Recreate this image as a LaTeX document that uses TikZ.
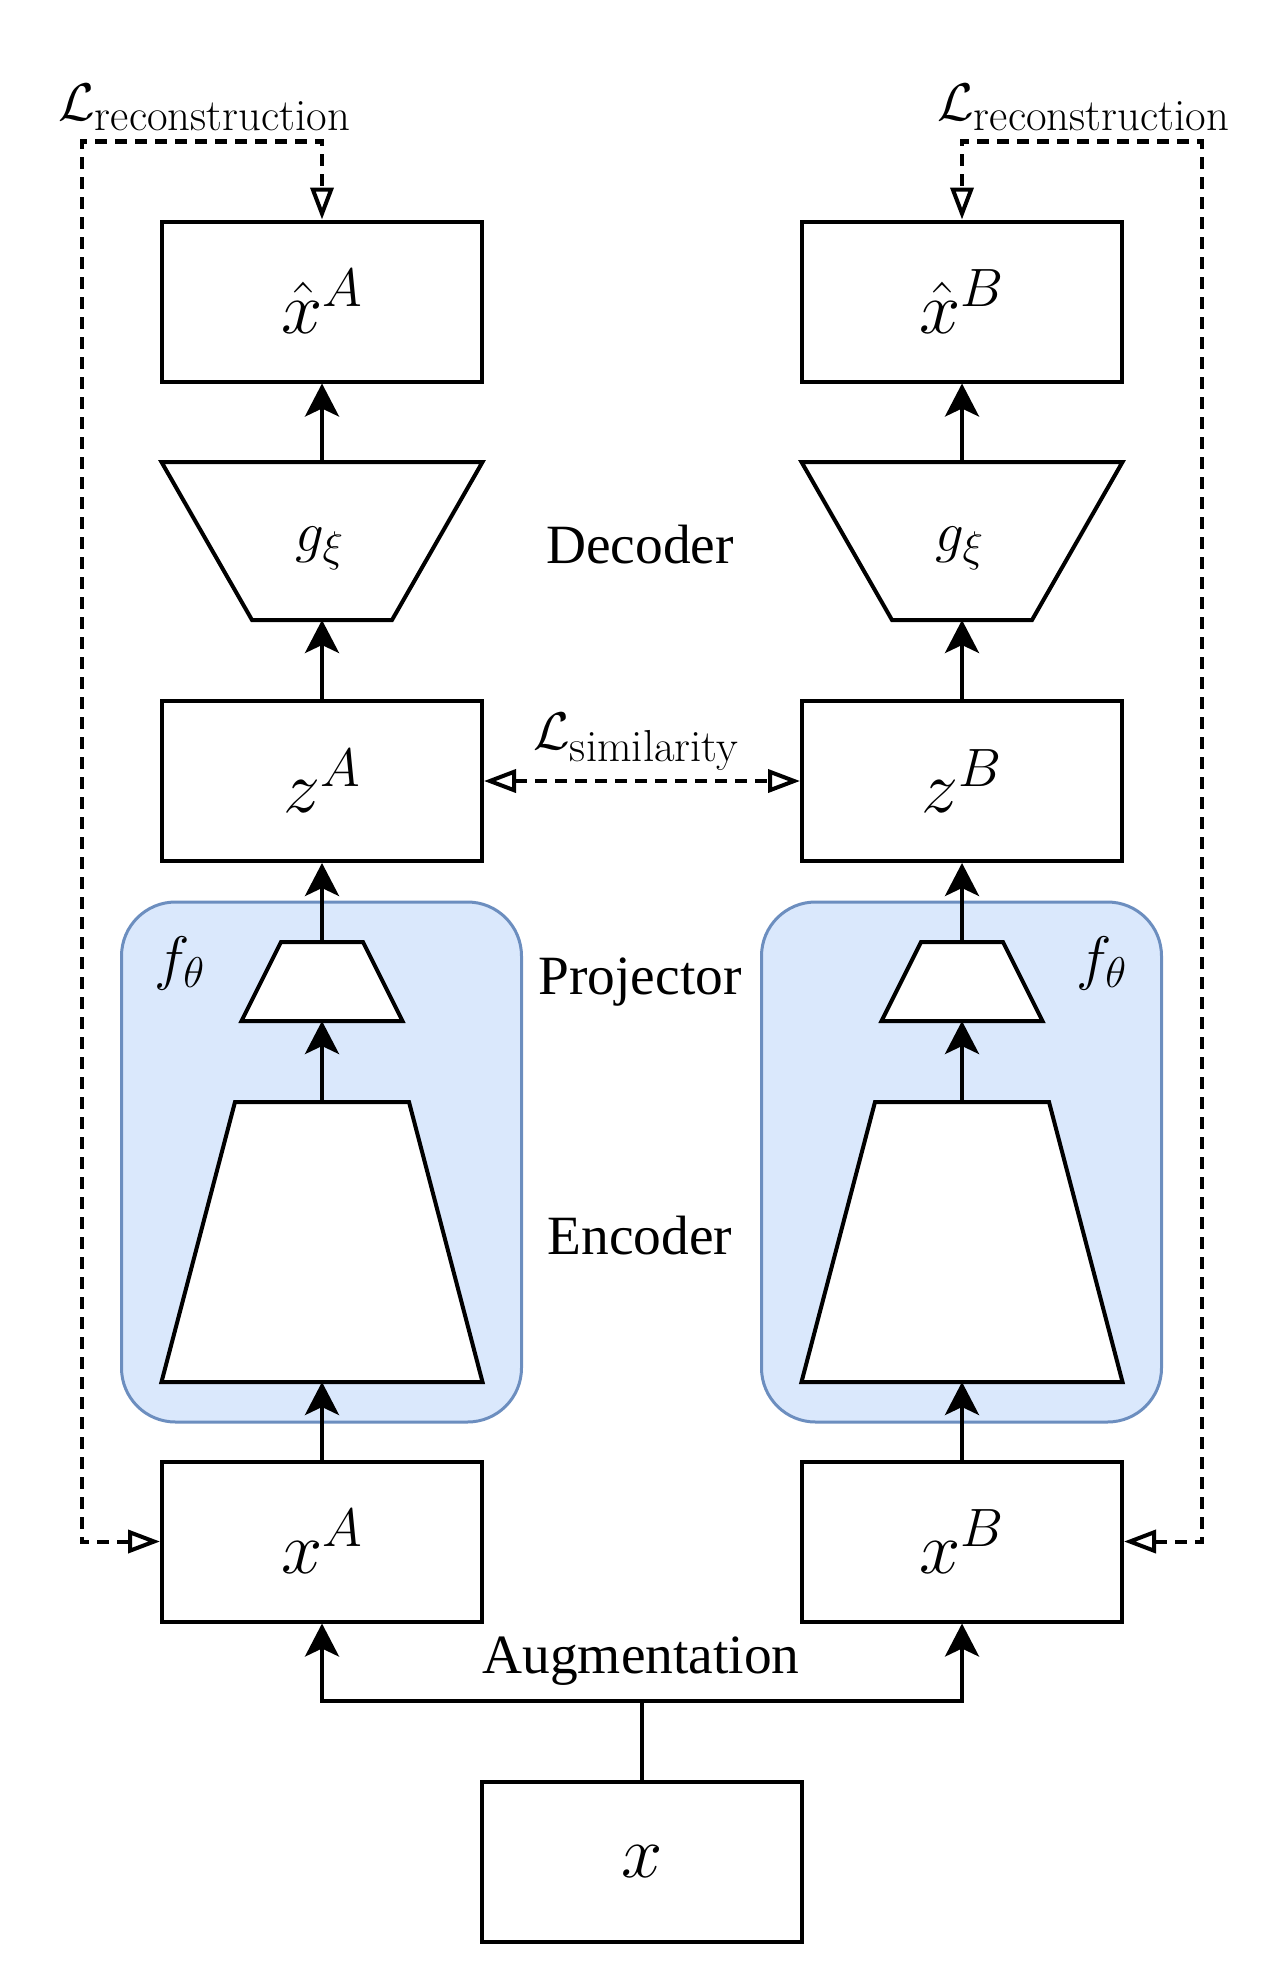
\RequirePackage{fix-cm}
\documentclass[tikz,border=0pt]{standalone}
\usepackage{amsmath}
\usepackage{fontspec}
\newfontfamily\labelfont{Liberation Serif}
\usetikzlibrary{arrows.meta}
\definecolor{blueFill}{HTML}{DAE8FC}
\definecolor{blueLine}{HTML}{6C8EBF}
% subscripts / superscripts at explicit sizes
\newcommand{\subtxt}[1]{_{\mbox{\fontsize{22.4}{26}\selectfont #1}}}
\newcommand{\submath}[1]{_{\mbox{\fontsize{21.5}{25}\selectfont$#1$}}}
\newcommand{\supmath}[1]{^{\mbox{\fontsize{27}{32}\selectfont$#1$}}}
\begin{document}
\begin{tikzpicture}[x=0.5pt,y=-0.5pt,
  box/.style={draw, line width=2pt, fill=white, minimum width=160pt, minimum height=80pt, inner sep=0pt},
  trap/.style={draw, line width=2pt, fill=white, line join=miter},
  conn/.style={line width=2pt, -{Stealth[length=16.5pt,width=17pt,inset=4pt]}},
  loss/.style={line width=2pt, dash pattern=on 6pt off 4pt, {Triangle[open,length=16pt,width=11.5pt]}-{Triangle[open,length=16pt,width=11.5pt]}},
  boxmath/.style={font=\fontsize{37}{44}\selectfont},
  lbl/.style={font=\labelfont\fontsize{27.7}{33}\selectfont, inner sep=0pt},
  mlbl/.style={font=\fontsize{28.5}{34}\selectfont, inner sep=0pt},
  losslbl/.style={font=\fontsize{26.5}{32}\selectfont, inner sep=0pt},
  flbl/.style={font=\fontsize{30}{36}\selectfont, inner sep=0pt},
  enc/.style={draw=blueLine, fill=blueFill, line width=1.5pt, rounded corners=27pt, minimum width=200pt, minimum height=260pt, inner sep=0pt}
]
\useasboundingbox (0,0) rectangle (1284,1964);

% encoder groups
\node[enc] (fL) at (321.5,1162) {};
\node[enc] (fR) at (961.5,1162) {};

% trapezoids
\foreach \cx/\s in {322/L,962/R}{
  \draw[trap] (\cx-160.5,462) -- (\cx+160.5,462) -- (\cx+70,620) -- (\cx-70,620) -- cycle;
  \draw[trap] (\cx-41,942) -- (\cx+41,942) -- (\cx+80.5,1021) -- (\cx-80.5,1021) -- cycle;
  \draw[trap] (\cx-87,1102) -- (\cx+87,1102) -- (\cx+160.5,1382) -- (\cx-160.5,1382) -- cycle;
  \coordinate (decTop\s) at (\cx,462);
  \coordinate (decBot\s) at (\cx,620);
  \coordinate (prjTop\s) at (\cx,942);
  \coordinate (prjBot\s) at (\cx,1021);
  \coordinate (encTop\s) at (\cx,1102);
  \coordinate (encBot\s) at (\cx,1382);
}

% boxes
\node[box,boxmath] (xhA) at (322,301.5) {$\hat{x}\supmath{A}$};
\node[box,boxmath] (xhB) at (962,301.5) {$\hat{x}\supmath{B}$};
\node[box,boxmath] (zA) at (322,781) {$z\supmath{A}$};
\node[box,boxmath] (zB) at (962,781) {$z\supmath{B}$};
\node[box,boxmath] (xA) at (322,1541.5) {$x\supmath{A}$};
\node[box,boxmath] (xB) at (962,1541.5) {$x\supmath{B}$};
\node[box,boxmath] (x) at (642,1861.5) {$x$};

% solid connectors
\coordinate (aug) at (642,1701);
\draw[conn] (x.north) -- (aug) -| (xA.south);
\draw[conn] (aug) -| (xB.south);
\draw[conn] (xA.north) -- (encBotL);
\draw[conn] (encTopL) -- (prjBotL);
\draw[conn] (prjTopL) -- (zA.south);
\draw[conn] (zA.north) -- (decBotL);
\draw[conn] (decTopL) -- (xhA.south);
\draw[conn] (xB.north) -- (encBotR);
\draw[conn] (encTopR) -- (prjBotR);
\draw[conn] (prjTopR) -- (zB.south);
\draw[conn] (zB.north) -- (decBotR);
\draw[conn] (decTopR) -- (xhB.south);

% loss connectors
\coordinate (rcL) at (82,141.5);
\coordinate (rcR) at (1202,141.5);
\draw[loss] (xA.west) -| (rcL) -| (xhA.north);
\draw[loss] (xB.east) -| (rcR) -| (xhB.north);
\draw[loss] (zA.east) -- (zB.west);

% labels
\node[losslbl, anchor=base west] (lrecL) at (58,120) {$\mathcal{L}\subtxt{reconstruction}$};
\node[losslbl, anchor=base west] (lrecR) at (937,120) {$\mathcal{L}\subtxt{reconstruction}$};
\node[losslbl, anchor=base west] (lsim) at (533,749) {$\mathcal{L}\subtxt{similarity}$};
\node[lbl, anchor=base] (decl) at (640,563) {Decoder};
\node[lbl, anchor=base] (prjl) at (640,994) {Projector};
\node[lbl, anchor=base] (encl) at (640,1254) {Encoder};
\node[lbl, anchor=base] (augl) at (641,1673) {Augmentation};
\node[mlbl, anchor=base] (gL) at (320,551) {$g\submath{\xi}$};
\node[mlbl, anchor=base] (gR) at (960,551) {$g\submath{\xi}$};
\node[flbl, anchor=base west] (fthL) at (154,978) {$f\submath{\theta}$};
\node[flbl, anchor=base west] (fthR) at (1076,978) {$f\submath{\theta}$};
\end{tikzpicture}
\end{document}
